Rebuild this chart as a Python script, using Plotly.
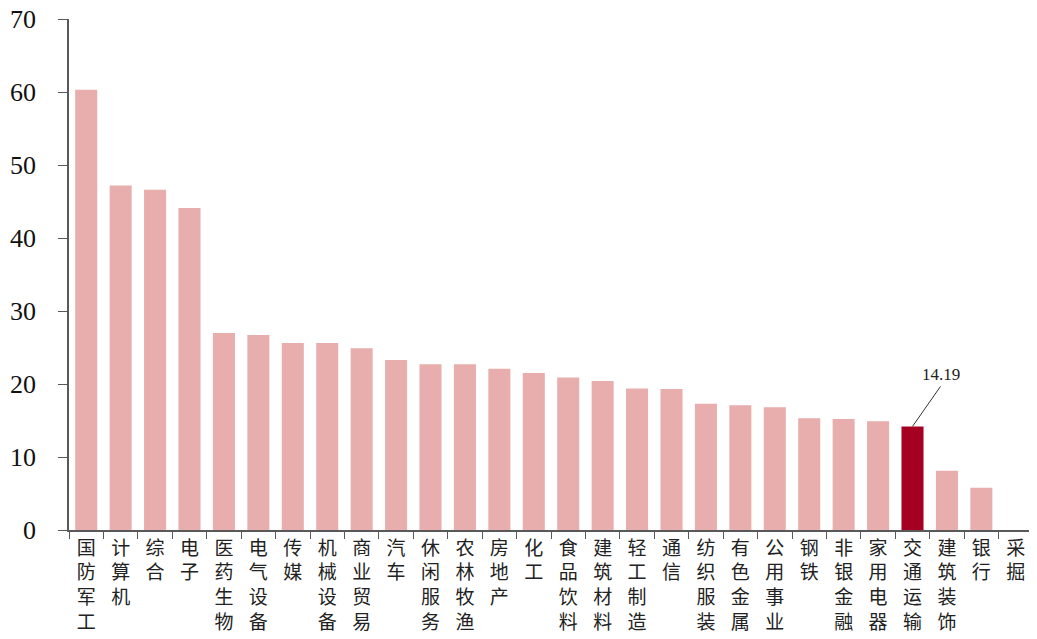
import plotly.graph_objects as go

# industry names and PE values
industries = ['国防军工', '计算机', '综合', '电子', '医药生物', '电气设备', '传媒', '机械设备',
              '商业贸易', '汽车', '休闲服务', '农林牧渔', '房地产', '化工', '食品饮料', '建筑材料',
              '轻工制造', '通信', '纺织服装', '有色金属', '公用事业', '钢铁', '非银金融', '家用电器',
              '交通运输', '建筑装饰', '银行', '采掘']
pe_values = [60.3, 47.2, 46.6, 44.1, 27.0, 26.7, 25.6, 25.6,
             24.9, 23.3, 22.7, 22.7, 22.1, 21.5, 20.9, 20.4,
             19.4, 19.3, 17.3, 17.1, 16.8, 15.3, 15.2, 14.9,
             14.19, 8.1, 5.8, None]
highlight = '交通运输'
y_ticks = [0, 10, 20, 30, 40, 50, 60, 70]

colors = ['#A50021' if name == highlight else '#E8ADAD' for name in industries]
# stack characters vertically for the category labels
tick_text = ['<br>'.join(name) for name in industries]

fig = go.Figure()
fig.add_trace(go.Bar(x=industries, y=pe_values, marker=dict(color=colors, line=dict(width=0))))

fig.add_annotation(x=highlight, y=pe_values[industries.index(highlight)], text='14.19',
                   showarrow=True, arrowhead=0, arrowwidth=1, arrowcolor='#333333',
                   ax=28, ay=-40, yanchor='bottom',
                   font=dict(family='Liberation Serif', size=17, color='#222222'))

# the page body adds an 8px margin, so the figure is drawn a bit smaller
fig.update_layout(
    width=1029, height=631,
    margin=dict(l=61, r=4, t=11, b=109),
    plot_bgcolor='white', paper_bgcolor='white',
    bargap=0.36,
    showlegend=False,
    xaxis=dict(tickmode='array', tickvals=industries, ticktext=tick_text, automargin=False,
               showline=True, linecolor='#595959', linewidth=1.5,
               ticks='outside', tickson='boundaries', ticklen=7, tickcolor='#595959',
               tickfont=dict(family='Noto Sans CJK SC', size=19, color='#222222'),
               tickangle=0, showgrid=False, ticklabeloverflow='allow'),
    yaxis=dict(range=[0, 70], tickvals=y_ticks, automargin=False,
               showline=True, linecolor='#595959', linewidth=1.5,
               ticks='outside', ticklen=9, tickcolor='#595959', ticklabelstandoff=17,
               ticklabeloverflow='allow', showgrid=False, zeroline=False,
               tickfont=dict(family='Liberation Serif', size=26, color='#111111')),
)

fig.write_html('out.html')
